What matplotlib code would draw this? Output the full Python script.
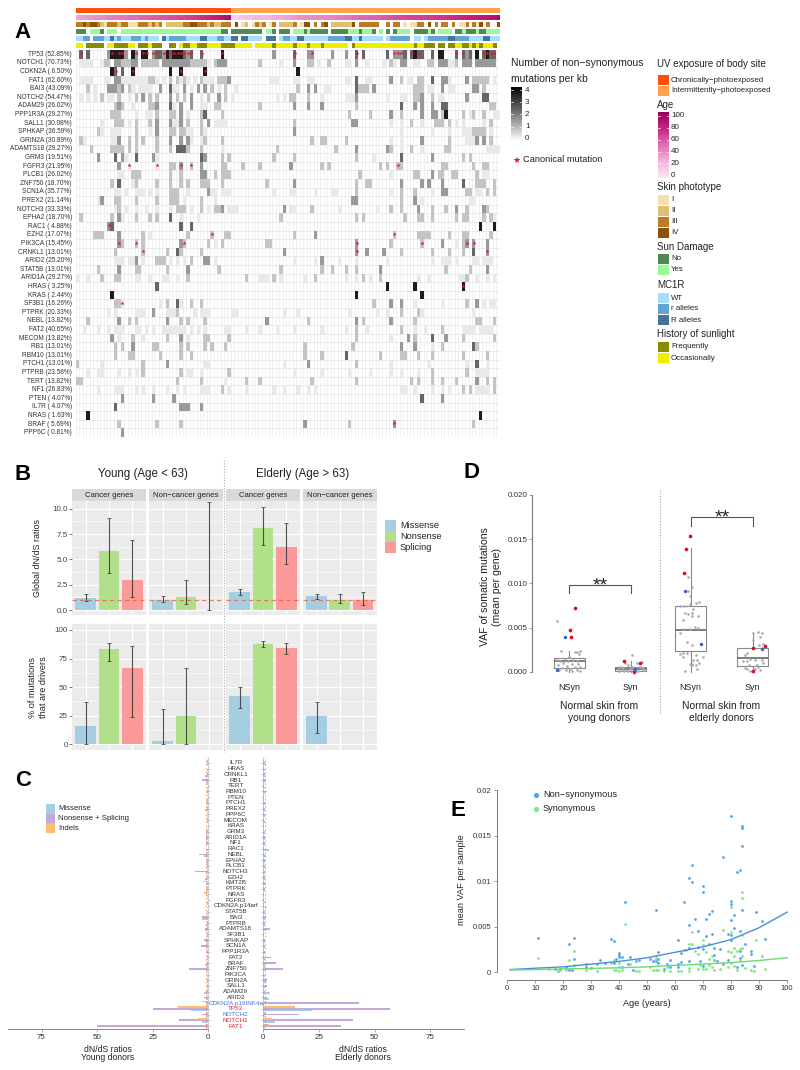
import numpy as np
import matplotlib
matplotlib.use("Agg")
import matplotlib.pyplot as plt
from matplotlib.colors import ListedColormap, LinearSegmentedColormap, to_rgb
from matplotlib.patches import Rectangle

plt.rcParams['font.family'] = ['Liberation Sans', 'DejaVu Sans']

W, H = 800, 1070

# ---- panel A data
genes = ["TP53", "NOTCH1", "CDKN2A", "FAT1", "BAI3", "NOTCH2", "ADAM29", "PPP1R3A", "SALL1", "SPHKAP",
         "GRIN2A", "ADAMTS18", "GRM3", "FGFR3", "PLCB1", "ZNF750", "SCN1A", "PREX2", "NOTCH3", "EPHA2",
         "RAC1", "EZH2", "PIK3CA", "CRNKL1", "ARID2", "STAT5B", "ARID1A", "HRAS", "KRAS", "SF3B1",
         "PTPRK", "NEBL", "FAT2", "MECOM", "RB1", "RBM10", "PTCH1", "PTPRB", "TERT", "NF1",
         "PTEN", "IL7R", "NRAS", "BRAF", "PPP6C"]
gene_pct = ["52.85", "70.73", " 6.50", "62.60", "43.09", "54.47", "26.02", "29.27", "30.08", "36.59",
            "30.89", "29.27", "19.51", "21.95", "26.02", "18.70", "35.77", "21.14", "33.33", "18.70",
            " 4.88", "17.07", "15.45", "13.01", "25.20", "13.01", "29.27", " 3.25", " 2.44", "16.26",
            "20.33", "13.82", "40.65", "13.82", "13.01", "13.01", "13.01", "23.58", "13.82", "26.83",
            " 4.07", " 4.07", " 1.63", " 5.69", " 0.81"]
# column:level per gene, * = canonical mutation
heat_cells = [
    "1:4* 3:4 9:3 10:5* 11:5 12:5* 13:5* 14:3 16:5 17:3* 19:5* 20:5* 22:3* 23:4* 24:4 25:3* 26:5 27:4* 28:5* 29:5* 30:5* 31:4* 32:3* 33:4* 36:4* 42:5* 57:3 63:4* 67:3 68:3* 74:3 78:3 81:4* 83:4 90:4 92:3* 93:3* 94:3* 95:4 97:4* 98:5 99:4* 100:4 103:4 105:5 106:5 110:4* 112:4* 113:3 114:4 116:5 118:4* 119:5* 120:4* 121:4*",
    "1-4:1 7:1 8-9:2 11-12:3 13-15:2 16-17:3 19-21:2 22-23:2 25-32:3 33-37:2 38:1 40:2 41-43:3 53:2 59:1 63:3 67-68:2 70:1 73:2 78-79:1 81:3 84:1 89:1 91:2 92:1 94-95:3 98-99:1 102-103:2 105-107:3 108-109:1 110:2 112-114:3 116:3 117-121:3",
    "10:5 11:4* 13:4 16:5* 27:5 30:5* 37:5* 64:5",
    "1-4:1 8-9:1 11-12:3 13-16:1 17-19:1 20:1 21-22:2 23:1 25:1 27:2 29:2 30:1 31:2 32:1 34:1 36:2 37-39:1 41-43:2 44:3 56-58:1 63-64:1 67-68:1 78-79:1 81:4 84-85:1 91:3 94:2 96-97:1 99-100:2 103:4 106-107:3 108:1 113:3 115-117:2 118-119:2 121:1",
    "3:2 5:1 9-11:3 12:2 13:3 15:2 16:1 18:1 19-21:1 24:3 27:4 28-29:1 31:3 33:1 35:3 37:3 39:2 41:1 43:2 46:1 64:2 67:3 69:3 72-73:1 81:4 82-84:2 86:3 98:2 99-100:2 102-103:1 106:3 108-109:1 115-116:3 118:2",
    "1:1 3:1 5:1 7:2 9-10:1 12:2 15:1 17:2 19:3 21:2 23:2 27:3 29:2 31:2 33:3 36:1 38:2 41:3 43:2 45:1 58:1 60:1 62-63:2 67:2 71:1 78-80:1 81:3 90:1 94-95:1 98-99:2 100:3 103:2 105-106:1 113:3 118-119:4",
    "11-13:2 12:3 16:1 21-22:2 23:3 27:4 28:1 30:3 33:3 36-37:1 40-41:2 53:2 63:3 67:3 71:3 81:2 94:4 98:3 100:3 103:3 106-107:4 120-121:2",
    "10-12:2 17:1 20-21:1 23:2 27-28:2 30:3 32:1 36:2 37:4 42:2 79:2 85:2 91:3 94:2 100:3 103-104:3 106:2 107:5 112:2 114:1 115:2 118:2 121-122:1",
    "7:1 11-13:2 15:1 17:2 21:2 23:3 27:3 28-29:1 30:3 32:2 36:2 38:3 40-43:1 63:2 80-81:3 91:1 94:1 97:2 100:1 104-106:2 108:2 110:1 112:1 118:1 120:2",
    "6:2 7:1 10-12:1 17:2 21:1 23:3 27:2 28:2 30-31:2 32-33:1 36:2 37:1 63:3 94:1 103:1 108:1 112-114:1 115-118:2 120:1",
    "1:2 2:1 10:1 11:1 12:3 15:2 17:2 19:2 23:2 27:3 30:3 32:3 33:1 36:1 37:2 42:2 68:2 71-72:2 78:2 91:1 94:1 100:3 108:2 113-115:1 116:3 118:3 120:2",
    "4:2 10-13:2 15:2 17:2 23:2 27:2 29-31:4 32:2 36:2 42:1 58:2 75:2 81:3 90:3 91:2 94:1 97:2 100:1 107-108:2 119-122:1",
    "6:3 11:4 13:3 14:1 17:4 22:3 23:1 36:4 37:3 42:2 44:2 57:2 63:2 81:2 86:1 94:4 103:3 112:2 114:2",
    "12:3 15:1* 23:1* 27-28:2 30:3* 33:2* 36:3 42-43:2 48:2 53:2 62:3 71:2 73:2 88:2 90:2 93:2* 94:2 106-107:2 115:2 118-119:2",
    "12-13:1 16-18:2 27:2 30:2 36-37:3 40:2 42-44:2 82:2 91:1 98-99:2 103:3 105-106:2 109-110:2 116:2 118-119:1",
    "10:2 12:4 16:1 17:2 23:2 27:2 30:2 32:2 36-38:2 42:2 55:2 63:3 81:2 84-85:2 94:3 100:3 102:3 106:3 112:4 116-118:2 121:2",
    "11-12:1 14:1 17-19:1 21:1 23:1 27-29:2 32:1 38:3 39-40:1 42:1 43-44:1 57:1 62-63:1 69:1 74-75:1 81:2 91:1 94:2 98:2 103:1 106-107:3 113-114:2 116-117:1 119:2 121:2",
    "6:1 7:3 11-12:2 17:2 23:2 27-29:2 31:1 36:2 40:1 80-81:3 94:2 98:3 100:1 114-115:1",
    "11:1 12:2 14:1 17:1 20:1 23:1 27:1 29-31:2 33:1 36:2 38:1 40-41:2 42:3 44-46:1 60:3 62-63:1 68:2 76:1 87:1 91:2 94:2 99:3 103:2 107:2 110:3 113:2 118:3 119:2",
    "1:2 10:2 12:3 13:1 17:2 21:2 23:2 27:4 30:1 35:1 59:2 81:2 83:2 95:2 99-100:2 103:2 110:2 112-113:2 118:2 120:2 121:1",
    "9:3* 10:4 30:4 33:4 117:5 121:5",
    "5-7:2 12:3 19:2 21:1 32:2 39:2* 43-44:2 63:2 69:3 92:2* 99-102:2 108:2 112-113:2 120:2",
    "12:3* 13:2 17:2* 19:2 30:3 31:2* 38:2 40:1 42:2 55:2 56:2 81:3* 91:2 100:2* 106:3 110:1 112:2 113:3* 115:3* 119:3",
    "11:2 19:2* 26:2 29:4 30:2 36:2 60:3 81:3* 84:3 89:3 94:2 103:2 108:2 112:2 115:4 119:3*",
    "11-13:1 15-16:1 17:3 19:1 23-25:2 27:1 29:1 31:1 33:2 37-38:3 40:1 63:1 69:1 71:3 76:1 81:1 90:1 103:1 106-108:1 110:1 115-116:1 118-120:1",
    "6:2 12:3 17-18:2 26:2 32:3 41:2 59:2 71:2 74:2 78:2 81:2 88:3 107:2 114:2 119:3",
    "0:1 3:1 7:2 11-12:2 17-18:1 21:1 25-26:1 29:1 32:2 49:2 53-55:1 57:2 59:1 66:1 69:2 78:1 81:1 83:2 85:1 88:2 99:1 102:1 111-112:1 113:2 116:1 119:1 121:1",
    "23:4 90:5 98:5 112:5*",
    "10:5 81:5 100:5",
    "11-12:2 13:1* 24:1 26:2 29:4 30:1 33:2 36:2 86:2 91:3 94:3 98:1 106:1 113:2 116:3 118:1 120-121:1",
    "9:1 11:1 17-19:1 22:3 26-28:1 29:2 34:1 36-38:1 45-46:1 60:1 64:1 79:1 87:1 90:1 94:2 99:2 100:1 115:1",
    "3:2 12:3 15:2 17:2 26:3 30:2 32:2 37:2 55:3 67:2 81:3 83:2 91:3 98:2 116-117:2 121:2",
    "2:1 6:1 9:1 11-13:1 17-18:1 20:1 22:1 25:1 26-28:1 29-31:1 33:1 35:1 37:1 43-44:1 49:1 53:1 58:1 63:1 71:1 78:1 81:2 84:1 94:2 98:1 101:1 106:2 112:1 113-115:1 117-120:1",
    "10:3 12:1 16:2 19:1 26:2 30:3 32:1 37-38:2 44:2 81:2 91:1 96:3 98:2 103:4 107:3 112:2 121:2",
    "11:2 13:2 16:3 22:2 23:2 30:2 32:2 37:2 39:2 43:2 66:2 80:2 94:3 98:3 103:1 106:2 115:4 116:2",
    "11:2 15-16:2 24:2 30:2 33:2 66:2 71:2 78:4 88:2 94-95:2 99:2 103:2 112:2 119:2",
    "0:2 7:1 19:2 26:3 37-38:1 60:1 67:3 81:2 91:1 102:1 113:1 116:4 119:1",
    "3:1 6-7:1 12:1 15:1 17:1 19:2 30:2 32-33:1 36:1 44:2 63:1 71:1 79:1 85:1 91:1 94:1 99:1 103:2 113:2 116-119:1",
    "0-1:2 29:2 36:2 43:1 49:2 53:2 68:2 81:2 97:2 99:2 103:2 106:2 110:2 116:3 119:2 121:2",
    "6:1 11-13:1 17:1 19:1 22:1 26:1 29:1 31:1 36-38:1 42:2 44:1 49:1 57:1 60:1 64:1 67:1 69:1 94-95:1 98:1 103:1 106:1 108:1 112:2 114:2 116-119:1 121:2",
    "13:3 22:3 28:3 100:4 106:3",
    "11:4 30-32:3 36:3",
    "3:5 117:5",
    "12:2 23:2 30:2 66:3 79:2 92:3* 115:2",
    "13:3",
]
n_samples = 123

uv_track = "C" * 45 + "I" * 78
age_track = [30, 32, 34, 35, 36, 38, 39, 40, 41, 43, 44, 45, 46, 47, 48, 49, 50, 51, 52, 53, 54, 55, 56,
             57, 58, 59, 60, 61, 62, 63, 64, 65, 66, 67, 69, 70, 72, 74, 76, 78, 80, 82, 85, 88, 92,
             11, 11, 15, 17, 18, 19, 21, 22, 22, 23, 24, 24, 28, 28, 28, 30, 32, 33, 35, 37, 37, 38, 38,
             39, 40, 40, 40, 41, 41, 42, 43, 44, 45, 46, 47, 50, 51, 52, 53, 53, 53, 54, 54, 56, 57, 58,
             61, 61, 62, 62, 63, 64, 65, 65, 65, 66, 66, 67, 68, 69, 70, 70, 71, 72, 73, 74, 75, 76, 77,
             79, 80, 80, 81, 82, 83, 84, 87, 92]
skin_track = ("3343443213" "3323311133" "32323 2222" "2334433323" "22333 4 12"
              " 1323 13 2" "2223 144 3" " 34 222222" "4 333333  " "3 33 1 113"
              "3 4 3 33 3" " 113 314 3  4")
sun_track = ("NNN YYYN Y" "YY YYYYYYY" "YYYYYYYYYY" "YYYYYYYYYY" "YYNN NNNNN"
             "NNNN YYN N" "NN YYYNYNN" "NNN NNNNNY" "YYNYYYN Y " "N NYYYY NN"
             "NNYN YYYY " "NNYNNNYNNYYYY")
mc1r_track = ("WWrr rrrWW" "RWrWWWrrrW" "rWWW RWrrr" "rrWWWWRRWW" "WrrWWRR RR"
              "WWWW RRR W" "rrWWRRWWWW" "WWWrrrrrRR" "WWRWWWWWW " "Wrrrrrr WW"
              " WrrrrrrRR" "rrrrWWWWRRWWW")
hist_track = ("OO FFFFF O" "OFFFFOO FF" "FOFFF  FF " "OFFOOFFFOO" "OOFFFFOOOO"
              "O OOOOOFOO" "OOOFOOOFOO" "OFOOOOOOO " "FOOOOOOOOO" "OOOOOOOOFO"
              "OFFF FF FF" "OOFFOFOFOOOF ")

# ---- panel B data
b_types = ["Missense", "Nonsense", "Splicing"]
dnds_val = [[1.2, 5.8, 3.0], [1.0, 1.3, 0.02], [1.75, 8.1, 6.2], [1.35, 1.0, 0.95]]
dnds_lo = [[0.9, 3.65, 1.3], [0.8, 0.6, 0.0], [1.45, 6.4, 4.55], [1.1, 0.65, 0.45]]
dnds_hi = [[1.6, 9.1, 6.95], [1.4, 3.0, 10.7], [2.05, 10.2, 8.55], [1.6, 1.55, 1.8]]
drv_val = [[16, 83, 67], [3, 24.5, 0], [42, 88, 84], [25, 0, 0]]
drv_lo = [[0, 73, 24], [0, 0, None], [31.5, 85, 79], [10, None, None]]
drv_hi = [[37, 89, 86], [30.5, 66.5, None], [50.5, 90.5, 88.5], [37, None, None]]

# ---- panel C data (top to bottom)
c_genes = ["IL7R", "HRAS", "CRNKL1", "RB1", "TERT", "RBM10", "PTEN", "PTCH1", "PREX2", "PPP6C", "MECOM", "KRAS",
           "GRM3", "ARID1A", "NF1", "RAC1", "NEBL", "EPHA2", "PLCB1", "NOTCH3", "EZH2", "KMT2B", "PTPRK", "NRAS",
           "FGFR3", "CDKN2A.p14arf", "STAT5B", "BAI3", "PTPRB", "ADAMTS18", "SF3B1", "SPHKAP", "SCN1A", "PPP1R3A",
           "FAT2", "BRAF", "ZNF750", "PIK3CA", "GRIN2A", "SALL1", "ADAM29", "ARID2", "CDKN2A.p16INK4a", "TP53",
           "NOTCH2", "NOTCH1", "FAT1"]
c_label_col = {"CDKN2A.p16INK4a": "#4a6fd8", "TP53": "#e0202a", "NOTCH2": "#4a6fd8", "NOTCH1": "#e0202a", "FAT1": "#e0202a"}
young_mis = [.6, .5, 1.5, 1, .6, .8, .5, .8, 1.5, .4, .6, .5, 1, 1, 1, 1, 2, 1, 1, 1, 1.5, 1, 1, .5, .5, .5, .8, 3, 1,
             1.5, .8, 1, 1, .8, .8, 1.5, 1.2, .8, .6, .6, 2, 1, .8, 8, 1, 3, 1]
young_non = [.8, .3, .8, 3, .3, .5, .3, .8, .8, .3, .5, .3, 1, 1, 1.2, .3, 4, .8, .8, 6, .8, .8, .8, .3, .3, .3, .5, 3,
             .8, 1.5, .5, 2, 3.3, .8, .8, .5, 8.5, .3, .8, .8, 1, 2, 1, 25, 3, 13, 50]
young_ind = [.5, .2, .8, .5, .5, .4, .5, 1, .5, .4, .4, .3, .5, 1, .5, .3, .5, .5, .5, .5, .5, 2.5, .8, 2, .8, .4, .3,
             .5, .5, .4, .4, .5, .5, .5, .5, .4, .8, .4, .4, .5, .5, .5, 3, 13.5, 1, 4.5, 1]
eld_mis = [1.5, 1, .8, .8, .8, 1, .5, 1, .8, .8, .8, .5, 1, 1, 1, 2.5, 1.5, 1, 1.2, .8, 1, 1.2, .8, .5, .8, 2, .8, .8, 1,
           1, .5, .8, .8, .8, 1, .8, 1, 1, 1.2, 1, 3, 2.5, .5, 22, 1, 5.5, 1]
eld_non = [1, .3, .8, 1.5, .5, 2, .5, .8, 1, .8, .5, .3, .8, .8, 1, .3, 1, 1, 1, .8, .8, .8, 1, .3, .3, .5, .8, 1.5, .8, 3,
           .5, .8, .8, 1, 3.5, 6, 9, .5, 2, 2, 1, 2, 43, 57, 16, 40.5, 35]
eld_ind = [.5, .3, .4, .5, .4, .5, .4, .5, .4, .3, .3, .3, .4, .5, .4, .3, .4, .4, .4, .4, .5, .6, .4, .5, .4, .3, .4, .5,
           .4, .4, .3, .4, .4, .4, .5, .5, 1, .4, .4, .4, .5, .6, 1, 14.5, 1.5, 4, 2.5]

# ---- panel D data
box_labels = ["NSyn", "Syn", "NSyn", "Syn"]
box_q1 = [.0004, .0001, .0024, .0007]
box_med = [.0012, .0003, .0047, .0016]
box_q3 = [.0016, .0006, .0074, .0027]
box_lo = [.0, .0, .0, .0]
box_hi = [.0024, .0012, .0140, .0044]
gray_dx = [
    [-11.7, -8.3, 11, 7.7, 10, 6, 0, -4, -12.3, -9, -.7, 4.3, 7.7, -5.7, 2.7, -11.3, -2.3, 6, 11, -7.3, 1, 7.7, 11, 2.7, -3.3, -9.7, 9.3],
    [1, -5.7, -2.3, 6, 11, -10.7, -7.3, 1, 5.3, 9.3, 12.7, -12.3, -9, -4.7, -.7, 2.7, 7.7, 12, -11.3, -2.3, 4.3, -6.7],
    [-2.3, 1, -2.3, -.7, 8.7, 5.3, -.7, -10.7, -6.7, 2.7, -5.7, -2.3, 1.7, 7, 1.7, -8, 4.3, 7.7, -.7, -7.3, -10.7, -4, 1.7, -8, -4, -10.7, 5.3, 12.7, -8, 2.7, 6.7, 8.7, 1, -.7, 5.3, 6.7, -5.3, 1.7],
    [.7, 5, 9.3, 7.3, .7, 10.7, 6.7, 9, -6, -7.7, -2.7, 2.3, 9, -9.3, -6, -3.3, 10.7, 5.7, -7.7, -5.3, 2.3, 7.3, -2.7, 4],
]
gray_val = [
    [.0058, .0024, .0024, .0023, .002, .0023, .0017, .0015, .0014, .0012, .0012, .0014, .0012, .001, .0009, .0008, .0007, .0006, .0006, .0004, .0003, .0002, .0001, .0001, .0002, .0002, .0009],
    [.0019, .001, .0008, .001, .0011, .0006, .0005, .0006, .0005, .0006, .0004, .0003, .0002, .0002, .0003, .0002, .00015, .0002, .0001, .0001, .0001, .0001],
    [.0107, .0096, .0091, .0086, .0079, .0078, .0077, .0075, .0074, .0071, .0067, .0066, .0067, .0063, .0063, .0059, .0051, .005, .0049, .0048, .0044, .0034, .0031, .0022, .0022, .002, .0019, .0017, .0017, .0014, .0013, .001, .0009, .0009, .0008, .0003, .0001, .0008],
    [.0044, .0045, .0044, .004, .0036, .0032, .003, .0027, .0021, .0019, .0015, .0014, .0014, .0012, .0012, .0008, .001, .0006, .0005, .0003, .0003, .0002, .00015, .0008],
]
red_dx = [[6, 1, 2], [-7, 9, 3], [-1, -5, -7], [0, 12, 0]]
red_val = [[.0072, .0047, .0039], [.0012, .001, .0], [.0154, .0139, .0112], [.0027, .0029, .0001]]
blue_dx = [[-4, -12], [4], [-6, 10], [9]]
blue_val = [[.0040, .0002], [.0003], [.0092, .0032], [.0026]]

# ---- panel E data
nsyn_age = [11, 22, 24, 24, 37, 38, 42, 40, 40, 40, 41, 44, 39, 33, 32, 28, 28, 30, 35, 38, 43, 41, 45, 46, 47, 21, 23, 22, 18, 17, 19,
            53, 54, 51, 53, 54, 52, 53, 54, 57, 58, 56, 58, 61, 63, 62, 62, 61, 61, 65, 66, 66, 70, 70, 65, 67, 68, 65, 68, 65, 69, 70, 70,
            71, 72, 73, 71, 73, 72, 74, 74, 74, 76, 77, 75, 77, 80, 84, 84, 84, 83, 82, 80, 80, 84, 81, 80, 81, 83, 79, 80, 80, 85, 87, 87,
            83, 83, 79, 82, 84, 88, 89, 91, 92]
nsyn_vaf = [.0038, .0031, .0038, .0015, .0037, .0034, .0077, .0021, .0019, .0017, .0017, .0017, .0015, .0014, .00095, .0009, .0006, .0005,
            .001, .00106, .0009, .00055, .00025, .00124, .0013, .0006, .00025, .0002, .0001, .0004, .0004,
            .0068, .0022, .0015, .0015, .0015, .0012, .0012, .001, .0009, .0014, .0004, .00055, .0036, .0077, .0021, .0011, .0009, .0006,
            .0104, .0118, .0099, .0095, .0088, .0052, .0058, .0045, .0027, .0028, .0012, .0012, .0026, .0007,
            .0058, .0064, .0067, .004, .0042, .0031, .0027, .0019, .00135, .0026, .0127, .0012, .0009, .0171, .0161, .0158, .0139, .0112, .011,
            .0078, .0075, .0068, .0063, .0057, .0049, .0045, .0042, .0041, .0036, .0031, .0023, .002, .0023, .0016, .00135, .0006, .0008, .0007,
            .0066, .0056, .0037]
syn_age = [11, 22, 24, 24, 42, 53, 53, 38, 37, 40, 40, 44, 19, 18, 21, 15, 28, 32, 38, 39, 40, 41, 46, 47, 51, 52, 53, 54, 56, 57, 58, 61, 62,
           65, 65, 63, 64, 66, 65, 66, 67, 68, 68, 70, 70, 71, 70, 71, 72, 73, 74, 74, 76, 77, 77, 79, 80, 80, 80, 84, 84, 84, 81, 82, 83, 84,
           81, 83, 84, 79, 80, 81, 82, 85, 87, 88, 89, 91, 92, 73, 69, 72]
syn_vaf = [.0016, .0013, .0023, .0008, .0053, .0018, .0015, .00135, .00106, .00106, .0006, .0009, .00025, .00015, .00025, .0004, .00025, .0001,
           .0003, .00025, .00015, .00025, .00015, .0001, .0006, .0002, .00025, .00025, .0001, .00055, .00015, .00015, .00015,
           .00045, .0001, .0024, .0024, .0044, .0031, .0031, .0023, .002, .0004, .0035, .003, .0022, .0004, .0004, .0015, .0018, .00135, .00025,
           .00035, .0046, .00106, .0023, .0022, .0072, .0044, .0088, .0082, .0041, .0027, .0023, .0026, .0027, .0018, .00135, .0018, .0006, .001,
           .0007, .00025, .00045, .00025, .0001, .0035, .0018, .0004, .0006, .0008, .0008]
fit_age = [1, 10, 20, 30, 40, 50, 60, 70, 80, 90, 100]
fit_nsyn = [.0003, .00045, .0006, .0009, .0012, .0016, .0022, .0028, .0036, .0049, .0066]
fit_syn = [.00026, .0003, .00037, .00043, .0005, .0006, .00077, .0009, .00106, .0013, .0016]

fig = plt.figure(figsize=(W / 100, H / 100), dpi=100)


def ax_px(l, t, r, b):
    a = fig.add_axes([l / W, 1 - b / H, (r - l) / W, (b - t) / H])
    return a


def txt(x, y, s, **kw):
    kw.setdefault('va', 'center')
    kw.setdefault('color', '#222222')
    return fig.text(x / W, 1 - y / H, s, **kw)


def square(x0, y0, x1, y1, col, **kw):
    fig.add_artist(Rectangle((x0 / W, 1 - y1 / H), (x1 - x0) / W, (y1 - y0) / H, transform=fig.transFigure,
                             facecolor=col, edgecolor='none', **kw))


def vline(x, y0, y1, **kw):
    fig.add_artist(plt.Line2D([x / W, x / W], [1 - y0 / H, 1 - y1 / H], transform=fig.transFigure, **kw))


for lab, x, y in [("A", 14, 32), ("B", 14, 475), ("C", 15, 780), ("D", 464, 473), ("E", 450, 811)]:
    txt(x, y, lab, fontsize=16, fontweight='bold', color='black')

# ---- A: annotation tracks
uv_cols = {"C": "#ff4f0f", "I": "#ffa24d"}
skin_cols = {"1": "#f3dfb0", "2": "#e0bf70", "3": "#bb7a25", "4": "#8b5208"}
sun_cols = {"N": "#4f8a52", "Y": "#98fb98"}
mc1r_cols = {"W": "#aadcff", "r": "#65a3d0", "R": "#45739a"}
hist_cols = {"F": "#8b8b00", "O": "#eeee00"}
age_cmap = LinearSegmentedColormap.from_list("age", ["#fbe6f3", "#f2b4da", "#e070b4", "#c8277e", "#960060"])


def track(top, bottom, codes, cols):
    rgb = np.ones((1, n_samples, 3))
    for i, c in enumerate(codes.ljust(n_samples)[:n_samples]):
        if c in cols:
            rgb[0, i] = to_rgb(cols[c])
    a = ax_px(76, top, 499.5, bottom)
    a.imshow(rgb, aspect='auto', interpolation='nearest')
    a.axis('off')


track(8, 13, uv_track, uv_cols)
a = ax_px(76, 15, 499.5, 20)
a.imshow(np.array(age_track)[None, :], aspect='auto', cmap=age_cmap, vmin=0, vmax=100, interpolation='nearest')
a.axis('off')
track(22, 27, skin_track, skin_cols)
track(29, 34, sun_track, sun_cols)
track(36, 41, mc1r_track, mc1r_cols)
track(43, 48, hist_track, hist_cols)

# ---- A: mutation heatmap
heat = np.zeros((len(genes), n_samples))
star_x, star_y = [], []
for r, spec in enumerate(heat_cells):
    for tok in spec.split():
        st = tok.endswith('*')
        cols, lvl = tok.rstrip('*').split(':')
        a_, _, b_ = cols.partition('-')
        for c in range(int(a_), int(b_ or a_) + 1):
            heat[r, c] = int(lvl)
            if st:
                star_x.append(c + .5)
                star_y.append(r + .4)

ax = ax_px(76, 50, 499.5, 437)
ax.vlines(range(n_samples + 1), 0, len(genes), color='#ececec', lw=.5, zorder=1)
ax.hlines(range(len(genes) + 1), 0, n_samples, color='#e4e4e4', lw=.5, zorder=1)
cmap = ListedColormap(["#e9e9e9", "#c4c4c4", "#999999", "#666666", "#1c1c1c"])
ax.pcolormesh(np.ma.masked_equal(heat, 0), cmap=cmap, vmin=.5, vmax=5.5, zorder=2, antialiased=False)
ax.scatter(star_x, star_y, marker='*', s=9, color='#f01020', linewidths=0, zorder=3)
ax.set_xlim(0, n_samples)
ax.set_ylim(len(genes), 0)
ax.axis('off')
for i, (g, p) in enumerate(zip(genes, gene_pct)):
    txt(72, 54.3 + 8.6 * i, "%s (%s%%)" % (g, p), ha='right', fontsize=4.7, color='#333333')

# ---- A: legends
txt(511, 63, "Number of non\u2212synonymous", fontsize=7.5)
txt(511, 79, "mutations per kb", fontsize=7.5)
a = ax_px(511, 86.5, 522, 141.5)
a.imshow(np.linspace(0, 1, 60)[:, None], aspect='auto', cmap=LinearSegmentedColormap.from_list("g", ["#000000", "#777777", "#ffffff"]))
a.axis('off')
for i, v in enumerate(["4", "3", "2", "1", "0"]):
    y = 90 + 12.2 * i
    txt(525, y, v, fontsize=5.8)
    if i < 4:
        fig.add_artist(plt.Line2D([511 / W, 513 / W], [1 - y / H] * 2, color='white', lw=.5))
        fig.add_artist(plt.Line2D([520 / W, 522 / W], [1 - y / H] * 2, color='white', lw=.5))
fig.text(516 / W, 1 - 160 / H, "\u2605", color='#f01020', fontsize=6.5, ha='center', va='center', family='DejaVu Sans')
txt(523, 160, "Canonical mutation", fontsize=6.7)

txt(657, 64, "UV exposure of body site", fontsize=7)
txt(657, 105, "Age", fontsize=7)
txt(657, 187, "Skin phototype", fontsize=7)
txt(657, 247, "Sun Damage", fontsize=7)
txt(657, 285, "MC1R", fontsize=7)
txt(657, 334, "History of sunlight", fontsize=7)


def keys(y0, labels, colors):
    for i, (l, c) in enumerate(zip(labels, colors)):
        square(658, y0 + 11 * i, 668.5, y0 + 11 * i + 10, c)
        txt(671, y0 + 11 * i + 5, l, fontsize=5.7)


keys(75, ["Chronically\u2212photoexposed", "Intermittently\u2212photoexposed"], ["#ff4f0f", "#ffa24d"])
keys(194.5, ["I", "II", "III", "IV"], list(skin_cols.values()))
keys(254, ["No", "Yes"], list(sun_cols.values()))
keys(293, ["WT", "r alleles", "R alleles"], list(mc1r_cols.values()))
keys(342, ["Frequently", "Occasionally"], list(hist_cols.values()))
a = ax_px(658, 112, 669, 178)
a.imshow(np.linspace(1, 0, 60)[:, None], aspect='auto', cmap=age_cmap)
a.axis('off')
for i, v in enumerate(["100", "80", "60", "40", "20", "0"]):
    y = 115.5 + 12 * i
    txt(671, y, v, fontsize=5.8)
    if i < 5:
        fig.add_artist(plt.Line2D([658 / W, 660 / W], [1 - y / H] * 2, color='white', lw=.5))
        fig.add_artist(plt.Line2D([667 / W, 669 / W], [1 - y / H] * 2, color='white', lw=.5))

# ---- B
b_cols = ["#a6cee3", "#b2df8a", "#fb9a99"]
facet_x = [(72, 146), (149, 223), (226, 300), (303, 376.7)]
facet_names = ["Cancer genes", "Non\u2212cancer genes", "Cancer genes", "Non\u2212cancer genes"]
for f, (l, r) in enumerate(facet_x):
    square(l, 489.3, r, 501.3, "#d9d9d9")
    txt((l + r) / 2, 495.5, facet_names[f], ha='center', fontsize=5.6)
    for row, (vals, lo, hi, ylim, ticks, minor, top, bot) in enumerate([
        (dnds_val, dnds_lo, dnds_hi, (-.49, 10.73), [0, 2.5, 5, 7.5, 10], [1.25, 3.75, 6.25, 8.75], 501.3, 615),
        (drv_val, drv_lo, drv_hi, (-5, 105.2), [0, 25, 50, 75, 100], [12.5, 37.5, 62.5, 87.5], 624, 750),
    ]):
        a = ax_px(l, top, r, bot)
        a.set_facecolor("#ebebeb")
        a.set_xlim(.4, 3.6)
        a.set_ylim(*ylim)
        a.set_yticks(ticks)
        a.set_yticks(minor, minor=True)
        a.set_xticks([1, 2, 3])
        a.grid(True, which='major', color='white', lw=.8)
        a.grid(True, which='minor', axis='y', color='white', lw=.4)
        a.set_axisbelow(True)
        for s in a.spines.values():
            s.set_visible(False)
        a.tick_params(axis='x', length=0, labelbottom=False)
        a.tick_params(axis='y', which='minor', length=0)
        if f == 0:
            a.tick_params(axis='y', length=2, width=.5, color='#444444', labelsize=5.8, labelcolor='#444444', pad=1)
            if row == 0:
                a.set_yticklabels(["0.0", "2.5", "5.0", "7.5", "10.0"])
        else:
            a.tick_params(axis='y', length=0, labelleft=False)
        a.bar([1, 2, 3], vals[f], width=.9, color=b_cols, zorder=2)
        for k in range(3):
            if lo[f][k] is not None:
                a.errorbar(k + 1, vals[f][k], yerr=[[vals[f][k] - lo[f][k]], [hi[f][k] - vals[f][k]]],
                           color='#333333', ecolor='#333333', lw=.8, capsize=1.6, capthick=.6, zorder=3, alpha=.85)
        if row == 0:
            a.axhline(1, color='#e8603a', lw=.9, ls=(0, (3.5, 2.5)), alpha=.75, zorder=4)

txt(143, 474, "Young (Age < 63)", ha='center', fontsize=8.3)
txt(303, 474, "Elderly (Age > 63)", ha='center', fontsize=8.3)
txt(38, 558, "Global dN/dS ratios", rotation=90, ha='center', fontsize=6.4)
txt(38, 687, "% of mutations\nthat are drivers", rotation=90, ha='center', multialignment='center', fontsize=6.6)
vline(224, 460, 752, color='#aaaaaa', lw=.8, ls=(0, (1, 1.5)))
for i, (l, c) in enumerate(zip(b_types, b_cols)):
    square(385, 520 + 11 * i, 396, 531 + 11 * i, c)
    txt(400, 525.5 + 11 * i, l, fontsize=6.6)

# ---- C
c_y = np.arange(len(c_genes))[::-1]
c_cols = ["#a6cee3", "#c4a8da", "#fdbf6f"]
for (l, r, xlim, mis, non, ind, side) in [(8, 208.3, (90.1, 0), young_mis, young_non, young_ind, 'right'),
                                           (263, 464, (0, 90.1), eld_mis, eld_non, eld_ind, 'left')]:
    a = ax_px(l, 757, r, 1028.7)
    a.barh(c_y - .28, mis, height=.3, color=c_cols[0])
    a.barh(c_y, non, height=.3, color=c_cols[1])
    a.barh(c_y + .28, ind, height=.3, color=c_cols[2])
    a.axvline(1, color='#e8603a', lw=.5, ls=(0, (2.5, 3)), alpha=.8, zorder=3)
    a.set_xlim(*xlim)
    a.set_ylim(-.47, 47.03)
    for s in ['top', 'left', 'right']:
        a.spines[s].set_visible(False)
    a.spines[side].set_visible(True)
    a.spines[side].set_linewidth(.4)
    a.spines[side].set_color('#aaaaaa')
    a.spines['bottom'].set_color('#888888')
    a.spines['bottom'].set_linewidth(.7)
    a.set_xticks([0, 25, 50, 75])
    a.set_yticks(c_y)
    a.set_yticklabels([])
    a.yaxis.set_ticks_position(side)
    a.tick_params(axis='x', length=2, width=.5, color='#888888', labelsize=5.8, labelcolor='#333333', pad=2)
    a.tick_params(axis='y', length=1.2, width=.4, color='#999999')
    a.patch.set_alpha(0)
for g, yy in zip(c_genes, c_y):
    txt(235.8, 1026 - 5.72 * yy, g, ha='center', fontsize=4.5, color=c_label_col.get(g, '#333333'))
txt(108, 1049, "dN/dS ratios", ha='center', fontsize=6.2)
txt(108, 1058, "Young donors", ha='center', fontsize=6.2)
txt(363, 1049, "dN/dS ratios", ha='center', fontsize=6.2)
txt(363, 1058, "Elderly donors", ha='center', fontsize=6.2)
for i, (l, c) in enumerate(zip(["Missense", "Nonsense + Splicing", "Indels"], c_cols)):
    square(45.7, 804 + 9.6 * i, 54.7, 813.6 + 9.6 * i, c)
    txt(58, 809 + 9.6 * i, l, fontsize=5.6)

# ---- D
box_x = [569, 630.7, 690.7, 752.7]
ax = ax_px(532.3, 490, 790, 715)
ax.set_xlim(532.3, 790)
ax.set_ylim(-.00486, .02056)
stats = [dict(med=box_med[i], q1=box_q1[i], q3=box_q3[i], whislo=box_lo[i], whishi=box_hi[i], fliers=[]) for i in range(4)]
gp = dict(color='#888888', lw=.8)
ax.bxp(stats, positions=box_x, widths=31, showfliers=False, showcaps=False, boxprops=gp, whiskerprops=gp,
       medianprops=dict(color='#666666', lw=1.2), manage_ticks=False)
for i in range(4):
    ax.scatter(box_x[i] + np.array(gray_dx[i]), gray_val[i], s=3.5, color='#aaaaaa', linewidths=0, zorder=3)
    ax.scatter(box_x[i] + np.array(red_dx[i]), red_val[i], s=7, color='#d8101c', linewidths=0, zorder=4)
    ax.scatter(box_x[i] + np.array(blue_dx[i]), blue_val[i], s=6, color='#3460d0', linewidths=0, zorder=4)
for s in ['top', 'right', 'bottom']:
    ax.spines[s].set_visible(False)
ax.spines['left'].set_bounds(0, .02)
ax.spines['left'].set_color('#777777')
ax.spines['left'].set_linewidth(.8)
ax.set_xticks([])
ax.set_yticks([0, .005, .01, .015, .02])
ax.set_yticklabels(["0.000", "0.005", "0.010", "0.015", "0.020"])
ax.tick_params(axis='y', length=2, width=.5, color='#777777', labelsize=5.8, labelcolor='#333333', pad=1.5)
ax.plot([569, 569, 630.7, 630.7], [.0089, .00983, .00983, .0089], color='#555555', lw=.8)
ax.plot([690.7, 690.7, 752.7, 752.7], [.01653, .01748, .01748, .01653], color='#555555', lw=.8)
ax.patch.set_alpha(0)
txt(600, 586, "**", ha='center', fontsize=14, color='#222222')
txt(722, 518, "**", ha='center', fontsize=14, color='#222222')
for x, s in zip(box_x, box_labels):
    txt(x, 688, s, ha='center', fontsize=6.4)
txt(599, 712, "Normal skin from\nyoung donors", ha='center', fontsize=7.4, linespacing=1.2, multialignment='center')
txt(721, 712, "Normal skin from\nelderly donors", ha='center', fontsize=7.4, linespacing=1.2, multialignment='center')
txt(491, 587, "VAF of somatic mutations\n(mean per gene)", rotation=90, ha='center', multialignment='center', fontsize=7.6)
vline(660, 490, 715, color='#aaaaaa', lw=.8, ls=(0, (1, 1.5)))

# ---- E
ax = ax_px(496.7, 785, 795, 979.7)
ax.set_xlim(-3.79, 102.8)
ax.set_ylim(-.00081, .02055)
ax.scatter(nsyn_age, nsyn_vaf, s=4, color='#4da6f0', linewidths=0)
ax.scatter(syn_age, syn_vaf, s=4, color='#7fe882', linewidths=0)
ax.plot(fit_age, fit_nsyn, color='#4a90d9', lw=1)
ax.plot(fit_age, fit_syn, color='#6fd873', lw=1)
for s in ['top', 'right']:
    ax.spines[s].set_visible(False)
ax.spines['left'].set_bounds(0, .02)
ax.spines['bottom'].set_bounds(0, 100)
for s in ['left', 'bottom']:
    ax.spines[s].set_color('#777777')
    ax.spines[s].set_linewidth(.7)
ax.set_xticks(range(0, 101, 10))
ax.set_yticks([0, .005, .01, .015, .02])
ax.set_yticklabels(["0", "0.005", "0.01", "0.015", "0.02"])
ax.tick_params(length=2.5, width=.5, color='#777777', labelsize=5.5, labelcolor='#333333', pad=1.5)
ax.patch.set_alpha(0)
txt(647, 1003.7, "Age (years)", ha='center', fontsize=6.6)
txt(461, 880, "mean VAF per sample", rotation=90, ha='center', fontsize=6.6)
lg = ax_px(525, 785, 640, 820)
lg.set_xlim(525, 640)
lg.set_ylim(820, 785)
lg.scatter([535.7], [794.7], s=14, color='#4da6f0', linewidths=0)
lg.scatter([535.7], [808.7], s=14, color='#7fe882', linewidths=0)
lg.axis('off')
txt(543, 794.7, "Non\u2212synonymous", fontsize=6.6)
txt(543, 808.7, "Synonymous", fontsize=6.6)

fig.savefig("out.png", dpi=100)
